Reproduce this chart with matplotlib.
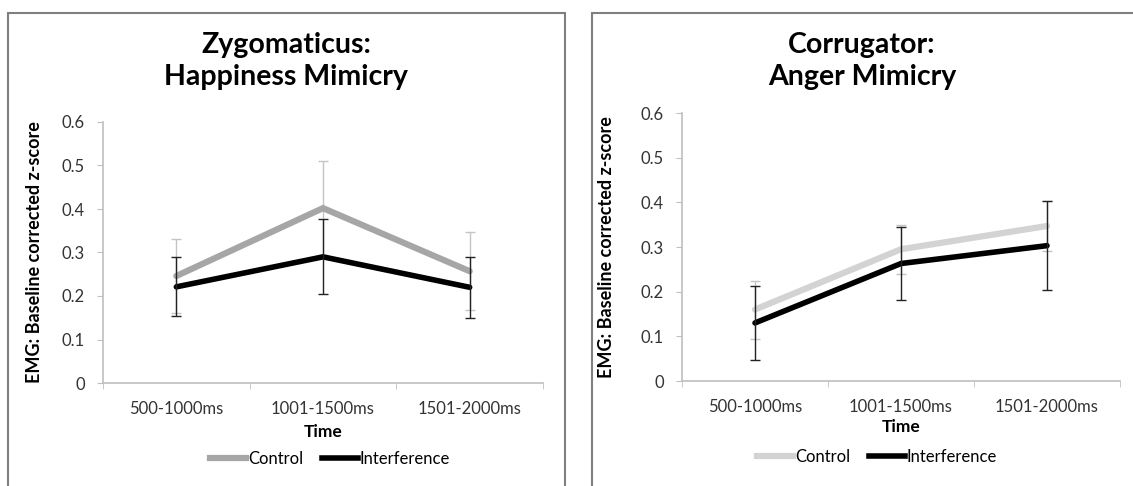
import matplotlib
matplotlib.use('Agg')
import matplotlib.pyplot as plt
from matplotlib.patches import Rectangle
from matplotlib.lines import Line2D

plt.rcParams['font.family'] = ['Lato', 'DejaVu Sans']

categories = ['500-1000ms', '1001-1500ms', '1501-2000ms']
yticks = [0, 0.1, 0.2, 0.3, 0.4, 0.5, 0.6]

zyg_title = 'Zygomaticus:\nHappiness Mimicry'
zyg_control = [0.246, 0.402, 0.257]
zyg_control_err = [0.086, 0.108, 0.090]
zyg_interf = [0.221, 0.290, 0.220]
zyg_interf_err = [0.068, 0.086, 0.070]

cor_title = 'Corrugator:\nAnger Mimicry'
cor_control = [0.160, 0.295, 0.347]
cor_control_err = [0.065, 0.055, 0.055]
cor_interf = [0.130, 0.263, 0.303]
cor_interf_err = [0.083, 0.081, 0.099]

W, H = 1133, 486
fig = plt.figure(figsize=(W / 100, H / 100), dpi=100)

# grey frames round each chart (right/bottom edges run off the picture)
for x0, x1 in [(8, 565), (592, 1160)]:
    fig.patches.append(Rectangle((x0 / W, -0.1), (x1 - x0) / W, 1.1 - 13 / H, transform=fig.transFigure,
                                 fill=False, ec='#7f7f7f', lw=1.5))

# axes boxes in pixels: left, right, y of 0, y of 0.6
panels = [
    dict(box=(103, 543, 383, 122), title=zyg_title, tx=286,
         ctrl=zyg_control, ctrl_err=zyg_control_err, intf=zyg_interf, intf_err=zyg_interf_err,
         ccol='#a6a6a6', ylab_x=35, time_y=432, leg_y=459, leg_x=330),
    dict(box=(682, 1120, 381, 113), title=cor_title, tx=862,
         ctrl=cor_control, ctrl_err=cor_control_err, intf=cor_interf, intf_err=cor_interf_err,
         ccol='#d3d3d3', ylab_x=606, time_y=427, leg_y=457, leg_x=877),
]

x = list(range(len(categories)))
for p in panels:
    l, r, b, t = p['box']
    ax = fig.add_axes([l / W, 1 - b / H, (r - l) / W, (b - t) / H])
    ax.errorbar(x, p['ctrl'], yerr=p['ctrl_err'], fmt='none', ecolor='#c4c4c4', elinewidth=1, capsize=3.5, capthick=1)
    ax.plot(x, p['ctrl'], color=p['ccol'], lw=4.5, solid_capstyle='round', solid_joinstyle='miter', zorder=3)
    ax.plot(x, p['intf'], color='black', lw=4, solid_capstyle='round', solid_joinstyle='miter', zorder=4)
    ax.errorbar(x, p['intf'], yerr=p['intf_err'], fmt='none', ecolor='#222222', elinewidth=1, capsize=3.5,
                capthick=1, zorder=5)
    ax.set_xlim(-0.5, 2.5)
    ax.set_ylim(0, 0.6)
    ax.set_yticks(yticks)
    ax.set_yticklabels(['0' if v == 0 else f'{v:.1f}' for v in yticks])
    ax.set_xticks(x)
    ax.set_xticklabels(categories)
    ax.set_xticks([-0.5, 0.5, 1.5, 2.5], minor=True)
    ax.tick_params(axis='x', which='major', length=0, pad=13, labelsize=12, labelcolor='#333333')
    ax.tick_params(axis='x', which='minor', length=4, color='#bfbfbf', direction='out')
    ax.tick_params(axis='y', length=4, color='#bfbfbf', direction='out', labelsize=12, labelcolor='#333333', pad=9)
    for s in ['top', 'right']:
        ax.spines[s].set_visible(False)
    for s in ['left', 'bottom']:
        ax.spines[s].set_color('#bfbfbf')
        ax.spines[s].set_linewidth(1.2)

    fig.text(p['tx'] / W, 1 - 61 / H, p['title'], ha='center', va='center', fontsize=20.5, fontweight='bold',
             linespacing=1.25)
    fig.text(p['ylab_x'] / W, 1 - (b + t) / 2 / H, 'EMG: Baseline corrected z-score', rotation=90,
             ha='center', va='center', fontsize=13, fontweight='bold')
    fig.text((l + r) / 2 / W, 1 - p['time_y'] / H, 'Time', ha='center', va='center', fontsize=12.5, fontweight='bold')
    handles = [Line2D([], [], color=p['ccol'], lw=4.5), Line2D([], [], color='black', lw=4)]
    fig.legend(handles, ['Control', 'Interference'], loc='center', bbox_to_anchor=(p['leg_x'] / W, 1 - p['leg_y'] / H),
               ncol=2, frameon=False, fontsize=12, handlelength=2.2, handletextpad=0.1, columnspacing=1.1)

fig.savefig('out.png', dpi=100)
